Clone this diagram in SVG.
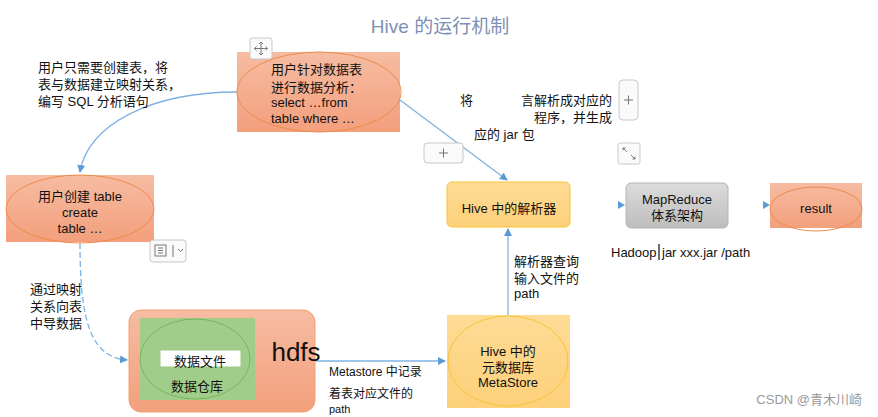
<svg xmlns="http://www.w3.org/2000/svg" width="878" height="417" viewBox="0 0 878 417">
<style>
text{font-family:"Liberation Sans","Noto Sans CJK SC",sans-serif;font-size:13px;fill:#111}
.c{text-anchor:middle}
.ln{fill:none;stroke:#7fb2e2;stroke-width:1.3}
.ui{fill:#fafafa;stroke:#c8c8c8;stroke-width:1}
.uig{stroke:#777;stroke-width:1;fill:none}
</style>
<defs>
<linearGradient id="og" x1="0" y1="0" x2="0" y2="1"><stop offset="0" stop-color="#f6bca2"/><stop offset="1" stop-color="#f39f7c"/></linearGradient>
<linearGradient id="gg" x1="0" y1="0" x2="0" y2="1"><stop offset="0" stop-color="#dcdcdc"/><stop offset="1" stop-color="#bdbdbd"/></linearGradient>
<linearGradient id="yg" x1="0" y1="0" x2="0" y2="1"><stop offset="0" stop-color="#fedb95"/><stop offset="1" stop-color="#fdd07a"/></linearGradient>
<marker id="ah" markerWidth="8" markerHeight="8" refX="7" refY="4" orient="auto" markerUnits="userSpaceOnUse"><path d="M0,0 L8,4 L0,8 z" fill="#5b9bd5"/></marker>
</defs>
<rect width="878" height="417" fill="#fff"/>
<text x="440" y="33" class="c" style="font-size:19px;fill:#7d8fb3">Hive 的运行机制</text>

<g id="connectors">
<path class="ln" d="M237,92 C150,92 88,125 80,172" marker-end="url(#ah)"/>
<path class="ln" d="M80,243 C80,320 90,357 127,360" stroke-dasharray="6,3" marker-end="url(#ah)"/>
<path class="ln" d="M400,100 L507,180" stroke="#b4d2ee" marker-end="url(#ah)"/>
<path class="ln" d="M316,361 L445,361" marker-end="url(#ah)"/>
<path class="ln" d="M508,315 L508,229" marker-end="url(#ah)"/>
<path d="M618,201 L625,205 L618,209 z" fill="#5b9bd5"/>
<path d="M763,201 L770,205 L763,209 z" fill="#5b9bd5"/>
</g>

<g id="n-analyze">
<rect x="237" y="52" width="163" height="80" fill="url(#og)"/>
<ellipse cx="319" cy="92" rx="82" ry="40" fill="none" stroke="#ee8a4a"/>
<text x="271" y="74">用户针对数据表</text>
<text x="271" y="92">进行数据分析：</text>
<text x="271" y="107">select …from</text>
<text x="271" y="123">table where …</text>
</g>
<rect class="ui" x="250" y="38" width="22" height="21" rx="2"/>
<path class="uig" d="M261,42 V55 M254.5,48.5 H267.5 M259,44 l2,-2 2,2 M259,53 l2,2 2,-2 M256.5,46.5 l-2,2 2,2 M265.5,46.5 l2,2 -2,2"/>

<text x="38" y="72">用户只需要创建表，将</text>
<text x="38" y="89">表与数据建立映射关系，</text>
<text x="38" y="106">编写 SQL 分析语句</text>

<g id="n-create">
<rect x="6" y="175" width="148" height="67" fill="url(#og)"/>
<ellipse cx="80" cy="209" rx="74" ry="34" fill="none" stroke="#ee8a4a"/>
<text x="80" y="201" class="c">用户创建 table</text>
<text x="80" y="217" class="c">create</text>
<text x="80" y="233" class="c">table …</text>
</g>
<rect class="ui" x="150" y="240" width="36" height="22" rx="3"/>
<rect class="uig" x="155" y="245" width="11" height="11"/>
<path class="uig" d="M158,248 h5 M158,250.5 h5 M158,253 h5 M173,245 v12 M178,249 l2.5,2.5 2.5,-2.5"/>

<text x="30" y="294">通过映射</text>
<text x="30" y="311">关系向表</text>
<text x="30" y="328">中导数据</text>

<g id="n-hdfs">
<rect x="129" y="310" width="186" height="102" rx="12" fill="url(#og)" stroke="#f2a074"/>
<rect x="140" y="318" width="115" height="82" fill="#a1cd8a"/>
<ellipse cx="195" cy="359" rx="55" ry="40" fill="none" stroke="#7ab55c"/>
<rect x="160" y="350" width="81" height="17" fill="#fff" stroke="#9bc784"/>
<text x="200" y="366" class="c">数据文件</text>
<text x="197" y="391" class="c">数据仓库</text>
<text x="296" y="361" class="c" style="font-size:26px">hdfs</text>
</g>

<text x="329" y="376" style="font-size:12px">Metastore 中记录</text>
<text x="329" y="398" style="font-size:12px">着表对应文件的</text>
<text x="329" y="413" style="font-size:11px">path</text>

<g id="n-metastore">
<rect x="447" y="315" width="123" height="93" fill="url(#yg)"/>
<ellipse cx="508" cy="361" rx="60" ry="45" fill="none" stroke="#f7c338"/>
<text x="508" y="356" class="c">Hive 中的</text>
<text x="508" y="372" class="c">元数据库</text>
<text x="508" y="387" class="c">MetaStore</text>
</g>

<text x="514" y="266">解析器查询</text>
<text x="514" y="283">输入文件的</text>
<text x="514" y="298">path</text>

<g id="n-parser">
<rect x="447" y="182" width="123" height="45" rx="5" fill="url(#yg)" stroke="#f7c338"/>
<text x="509" y="213" class="c">Hive 中的解析器</text>
</g>

<text x="460" y="105">将</text>
<text x="612" y="105" text-anchor="end">言解析成对应的</text>
<text x="612" y="122" text-anchor="end">程序，并生成</text>
<text x="474" y="139">应的 jar 包</text>
<rect class="ui" x="619" y="80" width="19" height="40" rx="4"/>
<path class="uig" d="M624,100 h9 M628.5,95.5 v9"/>
<rect class="ui" x="424" y="143" width="39" height="20" rx="3"/>
<path class="uig" d="M439,153 h9 M443.5,148.5 v9"/>
<rect class="ui" x="618" y="143" width="22" height="21" rx="2"/>
<path class="uig" d="M623,148 l4,4 M623,148 h2.5 M623,148 v2.5 M635,159 l-4,-4 M635,159 h-2.5 M635,159 v-2.5"/>

<g id="n-mapreduce">
<rect x="626" y="183" width="102" height="45" rx="5" fill="url(#gg)" stroke="#b5b5b5"/>
<text x="677" y="204" class="c">MapReduce</text>
<text x="677" y="220" class="c">体系架构</text>
</g>

<g id="n-result">
<rect x="770" y="183" width="92" height="45" fill="url(#og)"/>
<ellipse cx="816" cy="209" rx="46" ry="22" fill="none" stroke="#ee8a4a"/>
<text x="816" y="213" class="c">result</text>
</g>

<text x="611" y="257">Hadoop</text>
<line x1="659" y1="244" x2="659" y2="260" stroke="#111" stroke-width="1.2"/>
<text x="662" y="257">jar xxx.jar /path</text>

<text x="862" y="404" text-anchor="end" style="font-size:13px;fill:#9a9a9a">CSDN @青木川崎</text>
</svg>
